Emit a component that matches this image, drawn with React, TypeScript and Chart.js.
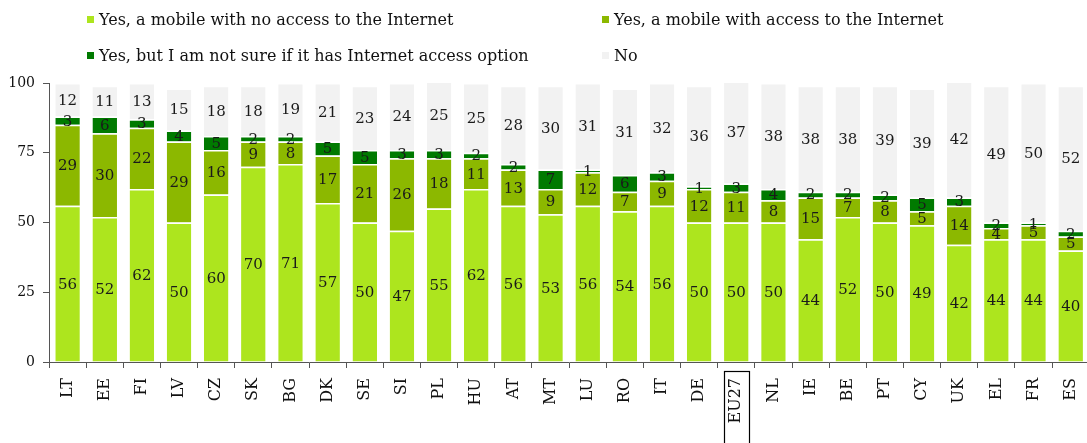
import React, { useEffect, useRef } from "react";
import { Chart, registerables } from "chart.js";

Chart.register(...registerables);

const categories = ["LT","EE","FI","LV","CZ","SK","BG","DK","SE","SI","PL","HU","AT","MT","LU","RO","IT","DE","EU27","NL","IE","BE","PT","CY","UK","EL","FR","ES"];
const noInternet = [56,52,62,50,60,70,71,57,50,47,55,62,56,53,56,54,56,50,50,50,44,52,50,49,42,44,44,40];
const withInternet = [29,30,22,29,16,9,8,17,21,26,18,11,13,9,12,7,9,12,11,8,15,7,8,5,14,4,5,5];
const notSure = [3,6,3,4,5,2,2,5,5,3,3,2,2,7,1,6,3,1,3,4,2,2,2,5,3,2,1,2];
const noMobile = [12,11,13,15,18,18,19,21,23,24,25,25,28,30,31,31,32,36,37,38,38,38,39,39,42,49,50,52];
const yTicks = [0, 25, 50, 75, 100];

const seriesNames = [
  "Yes, a mobile with no access to the Internet",
  "Yes, a mobile with access to the Internet",
  "Yes, but I am not sure if it has Internet access option",
  "No",
];
const seriesColors = ["#ADE51E", "#8CB800", "#007A00", "#F2F2F2"];

const FONT = "'DejaVu Serif', 'Liberation Serif', serif";

const valueLabels = {
  id: "valueLabels",
  afterDatasetsDraw(chart: any) {
    const ctx = chart.ctx;
    ctx.save();
    ctx.font = `15px ${FONT}`;
    ctx.fillStyle = "#1a1a1a";
    ctx.textAlign = "center";
    ctx.textBaseline = "middle";
    chart.data.datasets.forEach((ds: any, di: number) => {
      const meta = chart.getDatasetMeta(di);
      meta.data.forEach((bar: any, i: number) => {
        const v = ds.data[i];
        if (v == null) return;
        const yc = (bar.y + bar.base) / 2;
        ctx.fillText(String(v), bar.x, yc + 1);
      });
    });
    ctx.restore();
  },
};

const euBox = {
  id: "euBox",
  afterDraw(chart: any) {
    const idx = categories.indexOf("EU27");
    if (idx < 0) return;
    const xs = chart.scales.x;
    const x = xs.getPixelForValue(idx);
    const ctx = chart.ctx;
    ctx.save();
    ctx.strokeStyle = "#000";
    ctx.lineWidth = 1.2;
    ctx.strokeRect(Math.round(x - 12.5) + 0.5, chart.chartArea.bottom + 9.5, 25, 100);
    ctx.restore();
  },
};

export default function App() {
  const ref = useRef<HTMLCanvasElement | null>(null);
  useEffect(() => {
    if (!ref.current) return;
    const series = [noInternet, withInternet, notSure, noMobile];
    const chart = new Chart(ref.current, {
      type: "bar",
      data: {
        labels: categories,
        datasets: series.map((d, i) => ({
          label: seriesNames[i],
          data: d,
          backgroundColor: seriesColors[i],
          borderColor: "#ffffff",
          borderWidth: { top: 1.5, left: 0, right: 0, bottom: 0 },
          borderSkipped: false,
          categoryPercentage: 1,
          barPercentage: 0.66,
        })),
      },
      options: {
        responsive: false,
        animation: false,
        devicePixelRatio: 1,
        layout: { padding: { top: 83, right: 7, left: 0, bottom: 0 } },
        plugins: { legend: { display: false }, tooltip: { enabled: false } },
        scales: {
          x: {
            stacked: true,
            grid: { drawOnChartArea: false, drawTicks: true, tickLength: 6, color: "#555" },
            border: { color: "#555", width: 1 },
            ticks: {
              maxRotation: 90,
              minRotation: 90,
              padding: 10,
              color: "#111",
              font: { family: FONT, size: 16 },
              autoSkip: false,
            },
            afterFit(scale: any) { scale.height = 81; },
          },
          y: {
            stacked: true,
            min: 0,
            max: 100,
            afterBuildTicks(scale: any) { scale.ticks = yTicks.map((v) => ({ value: v })); },
            grid: { drawOnChartArea: false, drawTicks: true, tickLength: 6, color: "#555" },
            border: { color: "#555", width: 1 },
            ticks: { padding: 8, color: "#111", font: { family: FONT, size: 14 } },
            afterFit(scale: any) { scale.width = 49; },
          },
        },
      },
      plugins: [valueLabels, euBox],
    });
    return () => chart.destroy();
  }, []);

  const legendItem = (i: number, left: number, top: number) => (
    <div key={i} style={{ position: "absolute", left, top, height: 20, display: "flex", alignItems: "center", whiteSpace: "nowrap" }}>
      <span style={{ width: 7, height: 7, background: seriesColors[i], display: "inline-block", marginRight: 5 }} />
      <span style={{ fontFamily: FONT, fontSize: 16, color: "#111" }}>{seriesNames[i]}</span>
    </div>
  );

  return (
    <div style={{ position: "absolute", left: 0, top: 0, width: 1087, height: 443, overflow: "hidden", background: "#fff" }}>
      <canvas ref={ref} width={1100} height={443} style={{ position: "absolute", left: 0, top: 0 }} />
      {legendItem(0, 87, 9)}
      {legendItem(1, 602, 9)}
      {legendItem(2, 87, 45)}
      {legendItem(3, 602, 45)}
    </div>
  );
}
